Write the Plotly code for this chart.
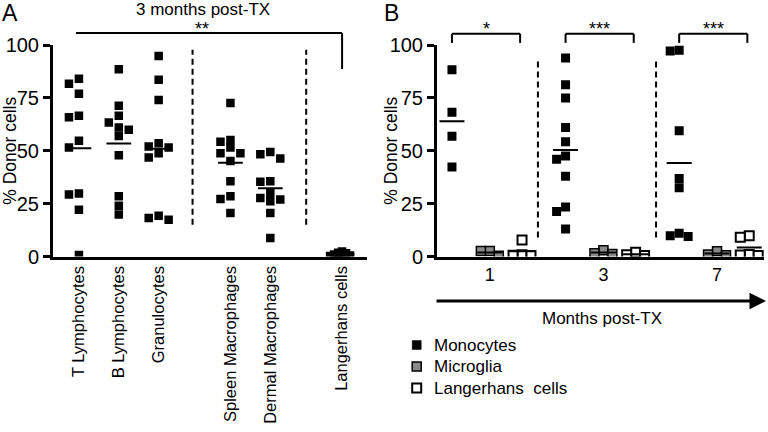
import numpy as np
import plotly.graph_objects as go

# ---------------- data ----------------
cats_A = ["T Lymphocytes", "B Lymphocytes", "Granulocytes",
          "Spleen Macrophages", "Dermal Macrophages", "Langerhans cells"]
t_lymph = [84.0, 81.7, 76.9, 66.6, 65.8, 54.7, 51.5, 29.8, 29.3, 22.1, 0.7]
b_lymph = [88.5, 71.3, 66.6, 63.4, 61.0, 59.9, 57.0, 47.9, 28.5, 24.0, 19.8]
granulocytes = [94.8, 83.6, 74.0, 53.6, 52.0, 51.5, 48.8, 46.8, 19.3, 18.2, 17.4]
spleen_mac = [72.6, 55.1, 54.2, 51.5, 48.8, 48.8, 45.2, 35.6, 28.5, 27.2, 20.6]
dermal_mac = [49.4, 48.3, 46.3, 35.6, 35.3, 30.1, 27.7, 26.9, 26.1, 20.6, 8.7]
langerhans_A = [2.4, 1.8, 1.5, 1.0, 0.8, 0.5, 0.3, 0.2]

months = ["1", "3", "7"]
mono = {"1": [88.3, 68.2, 56.8, 42.3],
        "3": [93.9, 81.2, 74.9, 61.0, 54.2, 47.5, 46.0, 38.0, 23.4, 21.3, 13.0],
        "7": [97.5, 97.2, 59.4, 36.9, 32.5, 11.0, 9.8, 9.4]}
micro = {"1": [2.6, 2.6, 0.3],
         "3": [3.0, 1.5, 1.2],
         "7": [2.5, 1.0, 0.6]}
lc = {"1": [7.8, 0.8, 0.6, 0.5],
      "3": [2.0, 0.8, 0.5],
      "7": [9.8, 9.1, 0.9, 0.7, 0.5]}
yticks = [0, 25, 50, 75, 100]
legend_names = ["Monocytes", "Microglia", "Langerhans  cells"]

# ---------------- layout constants ----------------
FONT = "Liberation Sans, Arial, sans-serif"
W, H = 768, 432
PXU_Y = 2.115                      # px per % unit
posA = [0, 1, 2, 3.8, 4.8, 6.6]    # category positions panel A
PXU_XA = 40.0
rngXA = [-0.65, 7.225]
PXU_XB = 38.0
rngXB = [-0.395, 8.24]
sub_off = [0.0, 1.0, 1.85]         # monocytes, microglia, LC within month group
rngY = [0, 100]
domXA = [53 / W, 367 / W]
domXB = [437 / W, 764 / W]
domY = [1 - 256.5 / H, 1 - 45 / H]


def beeswarm(values, d, step):
    """Prism-like column scatter: offsets (px) avoiding square overlap."""
    order = sorted(range(len(values)), key=lambda i: -values[i])
    placed, offs = [], [0.0] * len(values)
    for i in order:
        yp = values[i] * PXU_Y
        k = 0
        while True:
            c = 0 if k == 0 else ((-1) ** k) * ((k + 1) // 2)
            xo = c * step
            if all(abs(xo - a) >= d or abs(yp - b) >= d for a, b in placed):
                break
            k += 1
        placed.append((xo, yp))
        offs[i] = xo
    return offs


fig = go.Figure()

# ---------------- panel A ----------------
groupsA = [t_lymph, b_lymph, granulocytes, spleen_mac, dermal_mac, langerhans_A]
xa, ya, mean_x, mean_y = [], [], [], []
for p, vals in zip(posA, groupsA):
    near0 = max(vals) < 5
    offs = beeswarm(vals, 3 if near0 else 7.5, 4 if near0 else 10)
    xa += [p + o / PXU_XA for o in offs]
    ya += vals
    m = float(np.mean(vals))
    mean_x += [p - 0.31, p + 0.31, None]
    mean_y += [m, m, None]

fig.add_trace(go.Scatter(x=xa, y=ya, mode="markers", xaxis="x", yaxis="y",
                         marker=dict(symbol="square", size=8.5, color="black",
                                     line=dict(width=0)),
                         showlegend=False, hoverinfo="skip"))
fig.add_trace(go.Scatter(x=mean_x, y=mean_y, mode="lines", xaxis="x", yaxis="y",
                         line=dict(color="black", width=2), showlegend=False,
                         hoverinfo="skip"))

# ---------------- panel B ----------------
styles_B = [dict(color="black", line=dict(color="black", width=0)),
            dict(color="#8a8a8a", line=dict(color="black", width=1.5)),
            dict(color="white", line=dict(color="black", width=2))]
series_B = list(zip(legend_names, [mono, micro, lc], styles_B))
mxB, myB = [], []
for s, (name, data, mstyle) in enumerate(series_B):
    xs, ys = [], []
    for g, mo in enumerate(months):
        vals = data[mo]
        p = 3 * g + sub_off[s]
        offs = beeswarm(vals, 8, 9)
        xs += [p + o / PXU_XB for o in offs]
        ys += vals
        m = float(np.mean(vals))
        mxB += [p - 0.33, p + 0.33, None]
        myB += [m, m, None]
    fig.add_trace(go.Scatter(x=xs, y=ys, mode="markers", name=name,
                             xaxis="x2", yaxis="y2",
                             marker=dict(symbol="square", size=9, **mstyle),
                             showlegend=False, hoverinfo="skip"))
fig.add_trace(go.Scatter(x=mxB, y=myB, mode="lines", xaxis="x2", yaxis="y2",
                         line=dict(color="black", width=2), showlegend=False,
                         hoverinfo="skip"))


# ---------------- coordinate helpers (data -> paper) ----------------
def px_x(v, rng, dom):
    return dom[0] + (v - rng[0]) / (rng[1] - rng[0]) * (dom[1] - dom[0])


def px_y(v):
    return domY[0] + (v - rngY[0]) / (rngY[1] - rngY[0]) * (domY[1] - domY[0])


shapes = []


def seg(x0, y0, x1, y1, rngx, domx, dash="solid", width=2):
    shapes.append(dict(type="line", xref="paper", yref="paper",
                       x0=px_x(x0, rngx, domx), x1=px_x(x1, rngx, domx),
                       y0=px_y(y0), y1=px_y(y1),
                       line=dict(color="black", width=width, dash=dash)))


# A: significance bracket and separators
seg(-0.075, 105.7, 6.6, 105.7, rngXA, domXA)
seg(6.6, 105.7, 6.6, 88.6, rngXA, domXA)
for xv in [2.85, 5.7]:
    seg(xv, 15, xv, 97.8, rngXA, domXA, dash="6px,4px")

# B: brackets and separators
for g in range(3):
    a, b = 3 * g, 3 * g + 1.8
    seg(a, 101, a, 105.3, rngXB, domXB)
    seg(a, 105.3, b, 105.3, rngXB, domXB)
    seg(b, 105.3, b, 101, rngXB, domXB)
for xv in [2.27, 5.39]:
    seg(xv, 9, xv, 92.5, rngXB, domXB, dash="6px,4px")

# manual legend squares
leg_rows = [345, 366.5, 388]
for (fill, lw), row in zip([("black", 0), ("#8a8a8a", 1.5), ("white", 2)], leg_rows):
    yc = 1 - row / H
    shapes.append(dict(type="rect", xref="paper", yref="paper",
                       x0=(416.7 - 4.5) / W, x1=(416.7 + 4.5) / W,
                       y0=yc - 4.5 / H, y1=yc + 4.5 / H,
                       fillcolor=fill, line=dict(color="black", width=lw if lw else 0.5)))

# ---------------- annotations ----------------
ann = []


def txt(text, x, y, size, angle=0, xanchor="center"):
    ann.append(dict(text=text, x=x, y=y, xref="paper", yref="paper", showarrow=False,
                    textangle=angle, xanchor=xanchor, yanchor="middle",
                    font=dict(family=FONT, size=size, color="black")))


txt("A", 10 / W, 1 - 13 / H, 23)
txt("B", 391 / W, 1 - 13 / H, 23)
txt("% Donor cells", 10 / W, sum(domY) / 2, 17.5, angle=-90)
txt("% Donor cells", 391 / W, sum(domY) / 2, 17.5, angle=-90)
txt("3 months post-TX", px_x(3.1, rngXA, domXA), 1 - 10 / H, 17)
txt("**", px_x(3.09, rngXA, domXA), px_y(107.5), 18)
for g, star in enumerate(["*", "***", "***"]):
    txt(star, px_x(3 * g + 0.9, rngXB, domXB), px_y(107.5), 18)
txt("Months post-TX", 601.6 / W, 1 - 318.5 / H, 17)
for name, row in zip(legend_names, leg_rows):
    txt(name, 432 / W, 1 - row / H, 17, xanchor="left")

# time arrow under panel B
ya_arrow = 1 - 301 / H
ann.append(dict(text="", x=766 / W, y=ya_arrow, xref="paper", yref="paper",
                showarrow=True, ax=-331, ay=0, axref="pixel", ayref="pixel",
                arrowhead=2, arrowsize=1.1, arrowwidth=3, arrowcolor="black",
                standoff=0, startstandoff=0))

axis_common = dict(showline=True, linecolor="black", linewidth=3, showgrid=False,
                   zeroline=False, mirror=False, automargin=False)

fig.update_layout(
    width=W, height=H,
    margin=dict(l=0, r=0, t=0, b=0, pad=0, autoexpand=False),
    paper_bgcolor="white", plot_bgcolor="white",
    font=dict(family=FONT, color="black"),
    showlegend=False,
    xaxis=dict(domain=domXA, range=rngXA, tickmode="array",
               tickvals=posA, ticktext=cats_A, tickangle=-90, ticks="",
               tickfont=dict(size=16.5), anchor="y", **axis_common),
    yaxis=dict(domain=domY, range=rngY, tickmode="array", tickvals=yticks,
               ticks="outside", ticklen=7, tickwidth=3, tickcolor="black",
               tickfont=dict(size=20), anchor="x", **axis_common),
    xaxis2=dict(domain=domXB, range=rngXB, tickmode="array",
                tickvals=[1, 4, 7], ticktext=months, ticks="",
                tickfont=dict(size=18), anchor="y2", **axis_common),
    yaxis2=dict(domain=domY, range=rngY, tickmode="array", tickvals=yticks,
                ticks="outside", ticklen=7, tickwidth=3, tickcolor="black",
                tickfont=dict(size=20), anchor="x2", **axis_common),
    shapes=shapes,
    annotations=ann,
)

fig.write_html("out.html",
               config={"displayModeBar": False, "staticPlot": True},
               post_script="document.body.style.margin='0px';"
                           "document.body.style.overflow='hidden';")
